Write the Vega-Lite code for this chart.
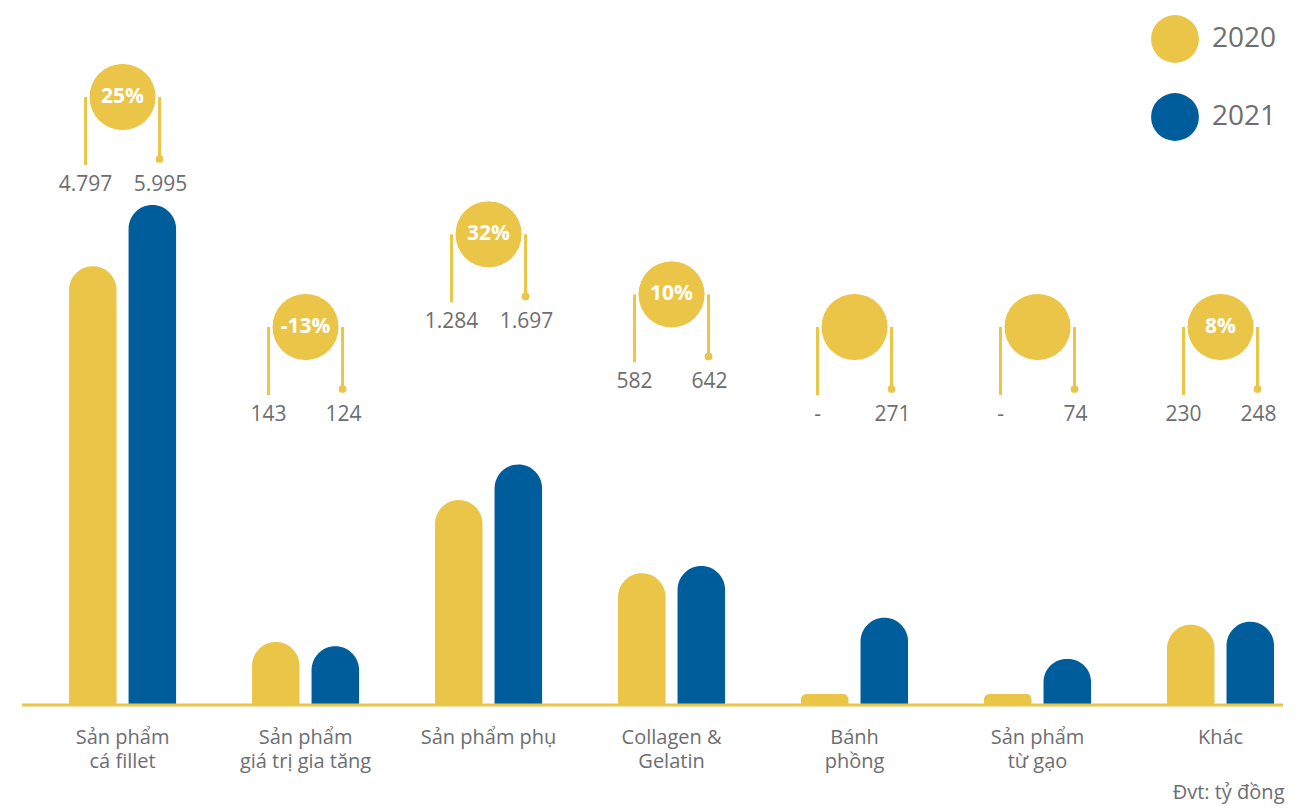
{
  "$schema": "https://vega.github.io/schema/vega-lite/v6.json",
  "width": 1261,
  "height": 705,
  "autosize": {"type": "none"},
  "padding": {"left": 22, "top": 0, "right": 20, "bottom": 104},
  "background": "white",
  "config": {
    "view": {"stroke": null},
    "font": "Open Sans",
    "locale": {"number": {"decimal": ",", "thousands": ".", "grouping": [3], "currency": ["", ""], "minus": "-"}}
  },
  "title": {
    "text": "Đvt: tỷ đồng",
    "orient": "bottom",
    "anchor": "end",
    "fontSize": 20,
    "fontWeight": "normal",
    "color": "#6d6e71",
    "offset": 12
  },
  "data": {
    "values": [
      {"cat": "Sản phẩm|cá fillet", "year": "2020", "value": 4797, "change": 0.25},
      {"cat": "Sản phẩm|cá fillet", "year": "2021", "value": 5995, "change": 0.25},
      {"cat": "Sản phẩm|giá trị gia tăng", "year": "2020", "value": 143, "change": -0.13},
      {"cat": "Sản phẩm|giá trị gia tăng", "year": "2021", "value": 124, "change": -0.13},
      {"cat": "Sản phẩm phụ", "year": "2020", "value": 1284, "change": 0.32},
      {"cat": "Sản phẩm phụ", "year": "2021", "value": 1697, "change": 0.32},
      {"cat": "Collagen &|Gelatin", "year": "2020", "value": 582, "change": 0.10},
      {"cat": "Collagen &|Gelatin", "year": "2021", "value": 642, "change": 0.10},
      {"cat": "Bánh|phồng", "year": "2020", "value": 0, "change": null},
      {"cat": "Bánh|phồng", "year": "2021", "value": 271, "change": null},
      {"cat": "Sản phẩm|từ gạo", "year": "2020", "value": 0, "change": null},
      {"cat": "Sản phẩm|từ gạo", "year": "2021", "value": 74, "change": null},
      {"cat": "Khác", "year": "2020", "value": 230, "change": 0.08},
      {"cat": "Khác", "year": "2021", "value": 248, "change": 0.08}
    ]
  },
  "layer": [
    {
      "layer": [
        {
          "mark": {"type": "bar", "cornerRadiusTopLeft": 24, "cornerRadiusTopRight": 24},
          "encoding": {
            "x": {
              "field": "cat", "type": "nominal", "sort": null,
              "scale": {"paddingInner": 0.415, "paddingOuter": 0.153, "align": 0.84},
              "axis": {
                "title": null, "domain": false, "ticks": false,
                "labelAngle": 0, "labelPadding": 22, "labelFontSize": 20,
                "labelColor": "#6d6e71", "labelLineHeight": 24,
                "labelExpr": "split(datum.label, '|')"
              }
            },
            "xOffset": {"field": "year", "type": "nominal", "scale": {"paddingInner": 0.2017, "paddingOuter": 0}},
            "y": {
              "field": "value", "type": "quantitative",
              "scale": {"type": "pow", "exponent": 0.6, "domain": [-10.75, 10741], "nice": false, "zero": false},
              "axis": null
            },
            "y2": {"datum": -10.75},
            "color": {
              "field": "year", "type": "nominal",
              "scale": {"domain": ["2020", "2021"], "range": ["#EBC548", "#005D9C"]},
              "legend": {
                "title": null, "orient": "none", "legendX": 1129, "legendY": 15,
                "symbolType": "circle", "symbolSize": 2290, "symbolStrokeWidth": 0, "symbolOpacity": 1,
                "labelFontSize": 28, "labelColor": "#6d6e71", "labelOffset": 13,
                "rowPadding": 30, "padding": 0
              }
            }
          }
        },
        {
          "transform": [{"aggregate": [{"op": "count", "as": "n"}]}],
          "mark": {"type": "rule", "color": "#EBC548", "strokeWidth": 3},
          "encoding": {"y": {"datum": -10.75}}
        }
      ]
    },
    {
      "transform": [{"joinaggregate": [{"op": "max", "field": "value", "as": "maxv"}], "groupby": ["cat"]}],
      "encoding": {
        "x": {"field": "cat", "type": "nominal", "sort": null},
        "y": {
          "field": "maxv", "type": "quantitative",
          "scale": {"type": "sqrt", "domain": [280, 5995], "range": [327, 97], "clamp": true, "zero": false, "nice": false},
          "axis": null
        }
      },
      "layer": [
        {
          "transform": [{"filter": "datum.year === '2020'"}],
          "mark": {"type": "rule", "color": "#EBC548", "strokeWidth": 3, "xOffset": -37, "y2Offset": 68},
          "encoding": {"y2": {"field": "maxv"}}
        },
        {
          "transform": [{"filter": "datum.year === '2021'"}],
          "mark": {"type": "rule", "color": "#EBC548", "strokeWidth": 3, "xOffset": 37, "y2Offset": 62},
          "encoding": {"y2": {"field": "maxv"}}
        },
        {
          "transform": [{"filter": "datum.year === '2021'"}],
          "mark": {"type": "point", "shape": "circle", "filled": true, "opacity": 1, "size": 4500, "color": "#EBC548", "stroke": "white", "strokeWidth": 1}
        },
        {
          "transform": [{"filter": "datum.year === '2021'"}],
          "mark": {"type": "point", "shape": "circle", "filled": true, "opacity": 1, "size": 60, "color": "#EBC548", "xOffset": 37, "yOffset": 62}
        },
        {
          "transform": [{"filter": "datum.year === '2021' && isValid(datum.change)"}],
          "mark": {"type": "text", "color": "white", "fontSize": 21, "fontWeight": "bold", "baseline": "middle"},
          "encoding": {"text": {"field": "change", "type": "quantitative", "format": ".0%"}}
        },
        {
          "transform": [{"filter": "datum.year === '2020'"}],
          "mark": {"type": "text", "color": "#6d6e71", "fontSize": 21, "baseline": "middle", "xOffset": -37, "yOffset": 88},
          "encoding": {"text": {"condition": {"test": "datum.value === 0", "value": "-"}, "field": "value", "type": "quantitative", "format": ",d"}}
        },
        {
          "transform": [{"filter": "datum.year === '2021'"}],
          "mark": {"type": "text", "color": "#6d6e71", "fontSize": 21, "baseline": "middle", "xOffset": 38, "yOffset": 88},
          "encoding": {"text": {"condition": {"test": "datum.value === 0", "value": "-"}, "field": "value", "type": "quantitative", "format": ",d"}}
        }
      ]
    }
  ],
  "resolve": {"scale": {"y": "independent"}}
}
